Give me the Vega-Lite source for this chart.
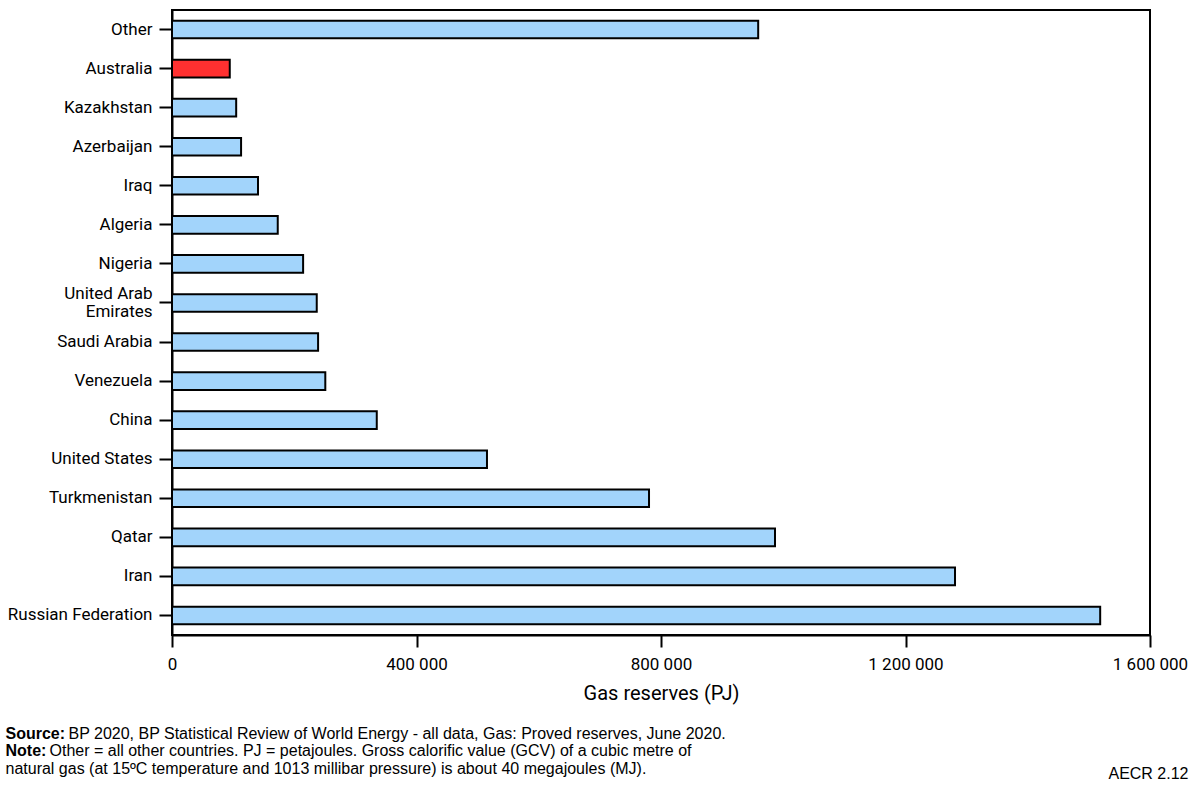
{
  "$schema": "https://vega.github.io/schema/vega-lite/v6.json",
  "autosize": "none",
  "width": 978,
  "height": 625,
  "padding": {"left": 172, "top": 10, "right": 50, "bottom": 152},
  "background": "white",
  "config": {
    "view": {"stroke": "black", "strokeWidth": 2},
    "axis": {"grid": false}
  },
  "data": {
    "values": [
      {"country": "Other", "reserves": 959000, "highlight": "no"},
      {"country": "Australia", "reserves": 94500, "highlight": "yes"},
      {"country": "Kazakhstan", "reserves": 105000, "highlight": "no"},
      {"country": "Azerbaijan", "reserves": 113000, "highlight": "no"},
      {"country": "Iraq", "reserves": 140700, "highlight": "no"},
      {"country": "Algeria", "reserves": 173000, "highlight": "no"},
      {"country": "Nigeria", "reserves": 214500, "highlight": "no"},
      {"country": "United Arab Emirates", "reserves": 236800, "highlight": "no"},
      {"country": "Saudi Arabia", "reserves": 239000, "highlight": "no"},
      {"country": "Venezuela", "reserves": 250800, "highlight": "no"},
      {"country": "China", "reserves": 335000, "highlight": "no"},
      {"country": "United States", "reserves": 515300, "highlight": "no"},
      {"country": "Turkmenistan", "reserves": 780400, "highlight": "no"},
      {"country": "Qatar", "reserves": 986500, "highlight": "no"},
      {"country": "Iran", "reserves": 1281000, "highlight": "no"},
      {"country": "Russian Federation", "reserves": 1518500, "highlight": "no"}
    ]
  },
  "resolve": {"axis": {"x": "independent"}},
  "layer": [
    {
      "mark": {"type": "bar", "stroke": "black", "strokeWidth": 2},
      "encoding": {
        "y": {
          "field": "country",
          "type": "nominal",
          "sort": null,
          "scale": {"paddingInner": 0.55, "paddingOuter": 0.275},
          "axis": {
            "title": null,
            "labelFont": "Roboto",
            "labelFontSize": 17,
            "labelColor": "black",
            "labelPadding": 7,
            "labelLineHeight": 18,
            "labelExpr": "datum.value == 'United Arab Emirates' ? ['United Arab', 'Emirates'] : datum.value",
            "labelOffset": {"condition": {"test": "datum.value == 'United Arab Emirates'", "value": -9}, "value": 0},
            "tickSize": 13,
            "tickWidth": 2,
            "tickColor": "black",
            "domainColor": "black",
            "domainWidth": 2
          }
        },
        "x": {
          "field": "reserves",
          "type": "quantitative",
          "scale": {"domain": [0, 1600000], "nice": false},
          "axis": {
            "orient": "bottom",
            "values": [0, 400000, 800000, 1200000, 1600000],
            "labelExpr": "replace(replace(format(datum.value, ','), ',', ' '), ',', ' ')",
            "labelFont": "Roboto",
            "labelFontSize": 17,
            "labelColor": "black",
            "labelPadding": 9,
            "labelFlush": false,
            "tickSize": 12,
            "tickWidth": 2,
            "tickColor": "black",
            "domainColor": "black",
            "domainWidth": 2,
            "title": "Gas reserves (PJ)",
            "titleFont": "Roboto",
            "titleFontSize": 20,
            "titleFontWeight": "normal",
            "titleColor": "black",
            "titleX": 489,
            "titleY": 64,
            "titleAlign": "center",
            "titleBaseline": "alphabetic"
          }
        },
        "color": {
          "field": "highlight",
          "type": "nominal",
          "scale": {"domain": ["no", "yes"], "range": ["#A2D4FB", "#FF3030"]},
          "legend": null
        }
      }
    },
    {
      "mark": {"type": "point", "opacity": 0},
      "encoding": {
        "x": {
          "field": "reserves",
          "type": "quantitative",
          "axis": {
            "orient": "bottom", "labels": false, "ticks": false, "domain": false,
            "title": ["Source:", "Note:"],
            "titleX": -167, "titleY": 103, "titleAlign": "left", "titleBaseline": "alphabetic",
            "titleFont": "Liberation Sans", "titleFontSize": 16, "titleFontWeight": "bold",
            "titleLineHeight": 17.5, "titleColor": "black"
          }
        }
      }
    },
    {
      "mark": {"type": "point", "opacity": 0},
      "encoding": {
        "x": {
          "field": "reserves",
          "type": "quantitative",
          "axis": {
            "orient": "bottom", "labels": false, "ticks": false, "domain": false,
            "title": "BP 2020, BP Statistical Review of World Energy - all data, Gas: Proved reserves, June 2020.",
            "titleX": -104, "titleY": 103, "titleAlign": "left", "titleBaseline": "alphabetic",
            "titleFont": "Liberation Sans", "titleFontSize": 16, "titleFontWeight": "normal", "titleColor": "black"
          }
        }
      }
    },
    {
      "mark": {"type": "point", "opacity": 0},
      "encoding": {
        "x": {
          "field": "reserves",
          "type": "quantitative",
          "axis": {
            "orient": "bottom", "labels": false, "ticks": false, "domain": false,
            "title": "Other = all other countries. PJ = petajoules. Gross calorific value (GCV) of a cubic metre of",
            "titleX": -123, "titleY": 120.5, "titleAlign": "left", "titleBaseline": "alphabetic",
            "titleFont": "Liberation Sans", "titleFontSize": 16, "titleFontWeight": "normal", "titleColor": "black"
          }
        }
      }
    },
    {
      "mark": {"type": "point", "opacity": 0},
      "encoding": {
        "x": {
          "field": "reserves",
          "type": "quantitative",
          "axis": {
            "orient": "bottom", "labels": false, "ticks": false, "domain": false,
            "title": "natural gas (at 15ºC temperature and 1013 millibar pressure) is about 40 megajoules (MJ).",
            "titleX": -167, "titleY": 138, "titleAlign": "left", "titleBaseline": "alphabetic",
            "titleFont": "Liberation Sans", "titleFontSize": 16, "titleFontWeight": "normal", "titleColor": "black"
          }
        }
      }
    },
    {
      "mark": {"type": "point", "opacity": 0},
      "encoding": {
        "x": {
          "field": "reserves",
          "type": "quantitative",
          "axis": {
            "orient": "bottom", "labels": false, "ticks": false, "domain": false,
            "title": "AECR 2.12",
            "titleX": 1016, "titleY": 143, "titleAlign": "right", "titleBaseline": "alphabetic",
            "titleFont": "Liberation Sans", "titleFontSize": 16, "titleFontWeight": "normal", "titleColor": "black"
          }
        }
      }
    }
  ]
}
